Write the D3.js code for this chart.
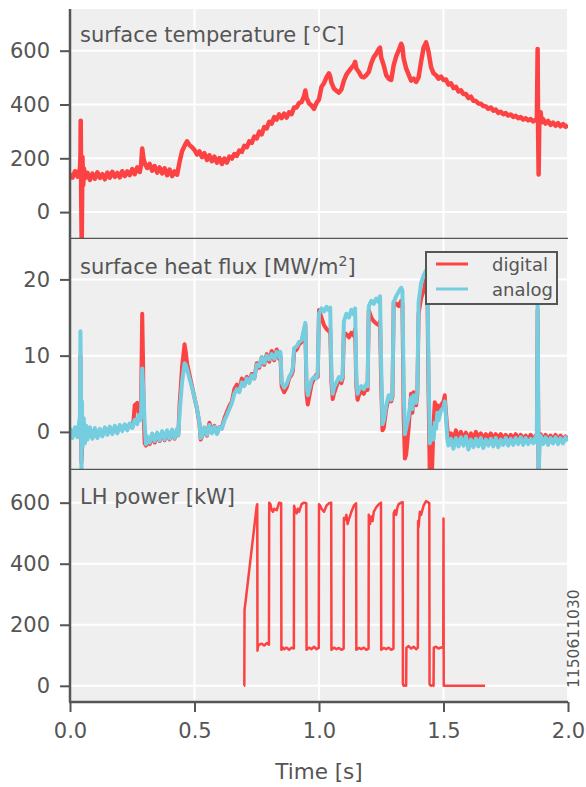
<!DOCTYPE html>
<html><head><meta charset="utf-8">
<script src="https://cdn.jsdelivr.net/npm/d3@7"></script>
<style>body{margin:0;background:#fff}svg{display:block}</style>
</head><body>
<svg id="c" width="586" height="787"></svg>
<script>
// ---------- data (time [s], value) ----------
const temperature = [[0,142],[0.01,128],[0.02,152],[0.03,132],[0.04,162],[0.042,210],[0.043,340],[0.045,60],[0.047,-120],[0.05,205],[0.053,100],[0.056,162],[0.06,126],[0.07,146],[0.08,120],[0.09,143],[0.10,124],[0.11,148],[0.12,127],[0.13,141],[0.14,122],[0.15,147],[0.16,128],[0.17,150],[0.18,131],[0.19,146],[0.20,129],[0.21,152],[0.22,134],[0.23,151],[0.24,137],[0.25,160],[0.26,141],[0.27,166],[0.28,149],[0.285,172],[0.29,236],[0.295,200],[0.30,182],[0.31,164],[0.32,179],[0.33,154],[0.34,171],[0.35,147],[0.36,166],[0.37,144],[0.38,163],[0.39,137],[0.40,158],[0.41,134],[0.42,151],[0.43,139],[0.44,186],[0.45,226],[0.46,246],[0.47,263],[0.48,249],[0.49,241],[0.50,231],[0.51,214],[0.52,226],[0.53,204],[0.54,219],[0.55,194],[0.56,211],[0.57,189],[0.58,206],[0.59,184],[0.60,201],[0.61,179],[0.62,199],[0.63,184],[0.64,206],[0.65,199],[0.66,216],[0.67,209],[0.68,229],[0.69,224],[0.70,246],[0.71,241],[0.72,263],[0.73,257],[0.74,281],[0.75,274],[0.76,299],[0.77,289],[0.78,316],[0.79,311],[0.80,336],[0.81,329],[0.82,353],[0.83,344],[0.84,363],[0.85,349],[0.86,366],[0.87,351],[0.88,371],[0.89,364],[0.90,389],[0.91,389],[0.92,406],[0.93,409],[0.94,431],[0.945,452],[0.95,426],[0.96,404],[0.97,396],[0.98,384],[0.99,406],[1.00,419],[1.01,466],[1.02,479],[1.03,501],[1.04,516],[1.045,504],[1.05,481],[1.06,459],[1.07,451],[1.08,444],[1.09,456],[1.10,489],[1.11,511],[1.12,524],[1.13,536],[1.14,547],[1.145,559],[1.15,534],[1.16,521],[1.17,504],[1.18,501],[1.19,509],[1.20,521],[1.21,554],[1.22,576],[1.23,589],[1.24,606],[1.245,611],[1.25,574],[1.26,546],[1.27,509],[1.28,496],[1.29,491],[1.30,546],[1.31,579],[1.32,601],[1.33,626],[1.335,614],[1.34,571],[1.35,534],[1.36,511],[1.37,489],[1.38,496],[1.39,484],[1.40,501],[1.41,559],[1.42,611],[1.43,631],[1.435,614],[1.44,596],[1.45,539],[1.46,516],[1.47,509],[1.48,496],[1.49,504],[1.50,491],[1.51,493],[1.52,474],[1.53,479],[1.54,461],[1.55,466],[1.56,449],[1.57,453],[1.58,439],[1.59,439],[1.60,424],[1.61,429],[1.62,414],[1.63,413],[1.64,404],[1.65,403],[1.66,394],[1.67,393],[1.68,384],[1.69,389],[1.70,377],[1.71,381],[1.72,369],[1.73,373],[1.74,364],[1.75,368],[1.76,359],[1.77,363],[1.78,354],[1.79,358],[1.80,349],[1.81,353],[1.82,344],[1.83,349],[1.84,341],[1.85,346],[1.86,337],[1.87,343],[1.875,345],[1.878,606],[1.88,300],[1.882,140],[1.885,352],[1.89,371],[1.895,334],[1.90,346],[1.91,329],[1.92,339],[1.93,324],[1.94,333],[1.95,321],[1.96,331],[1.97,319],[1.98,327],[1.99,317],[2.00,323]];

const fluxDigital = [[0,0.2],[0.01,-0.5],[0.02,0.4],[0.03,-0.4],[0.04,1],[0.042,10],[0.044,4],[0.046,-4],[0.05,-1],[0.06,-1],[0.07,-0.6],[0.08,0.4],[0.09,-0.7],[0.10,0.3],[0.11,-0.6],[0.12,0.2],[0.13,-0.4],[0.14,0.4],[0.15,-0.2],[0.16,0.5],[0.17,-0.1],[0.18,0.6],[0.19,0],[0.20,0.7],[0.21,0.3],[0.22,0.9],[0.23,0.4],[0.24,1.0],[0.25,0.6],[0.255,1.5],[0.26,3.5],[0.27,3.8],[0.275,2.5],[0.28,1.8],[0.285,3.0],[0.29,15.5],[0.293,10],[0.296,2],[0.30,-1.5],[0.305,-1.8],[0.31,-1.0],[0.32,-1.6],[0.33,-0.5],[0.34,-1.4],[0.35,-0.4],[0.36,-1.2],[0.37,-0.2],[0.38,-1.1],[0.39,0],[0.40,-1.0],[0.41,0.1],[0.42,-0.9],[0.43,0.2],[0.435,-0.3],[0.44,3.5],[0.45,8.5],[0.46,11.5],[0.465,10.5],[0.47,9.0],[0.48,7.5],[0.49,6.0],[0.50,4.5],[0.51,3.0],[0.52,1.0],[0.525,-1.0],[0.53,-0.6],[0.54,0.5],[0.55,-0.5],[0.56,1.2],[0.57,0],[0.58,0.8],[0.59,-0.2],[0.60,0.6],[0.61,0.6],[0.62,1.8],[0.63,2.6],[0.64,3.4],[0.65,4.0],[0.66,5.6],[0.67,6.2],[0.68,5.4],[0.69,7.0],[0.70,6.2],[0.71,7.2],[0.72,6.6],[0.73,7.6],[0.74,7.0],[0.75,9.0],[0.76,8.4],[0.77,9.8],[0.78,8.8],[0.79,10.2],[0.80,9.2],[0.81,10.6],[0.82,9.4],[0.83,10.8],[0.84,9.6],[0.845,10.0],[0.85,6.0],[0.86,5.2],[0.87,5.8],[0.88,7.0],[0.89,7.5],[0.895,8.0],[0.90,10.5],[0.91,10.8],[0.92,11.5],[0.93,11.8],[0.94,13.2],[0.945,14.0],[0.95,5.0],[0.955,3.6],[0.96,4.5],[0.97,6.2],[0.98,7.0],[0.99,7.5],[0.995,7.2],[1.00,16.0],[1.01,15.0],[1.02,14.0],[1.03,13.5],[1.04,13.2],[1.045,13.5],[1.05,6.5],[1.055,4.3],[1.06,5.0],[1.07,6.0],[1.08,6.8],[1.09,6.4],[1.095,7.0],[1.10,13.0],[1.11,12.8],[1.12,12.4],[1.13,13.0],[1.14,12.6],[1.145,13.5],[1.15,6.0],[1.155,4.2],[1.16,4.8],[1.17,5.4],[1.18,5.0],[1.19,5.8],[1.195,5.5],[1.20,16.0],[1.21,15.0],[1.22,14.5],[1.23,14.2],[1.24,14.0],[1.245,14.5],[1.25,6],[1.255,0.2],[1.26,0.5],[1.27,3.0],[1.28,4.5],[1.29,4.0],[1.295,4.6],[1.30,17.0],[1.31,16.8],[1.32,16.5],[1.33,17.2],[1.335,16.8],[1.34,2],[1.345,-3.5],[1.35,-3.0],[1.36,0.5],[1.37,5.0],[1.375,2.5],[1.38,5.2],[1.39,3.5],[1.395,5.0],[1.40,15.5],[1.41,17.5],[1.42,18.5],[1.43,20.0],[1.435,19.5],[1.44,5],[1.445,-6],[1.45,-8],[1.455,-4],[1.46,1.0],[1.465,3.9],[1.47,2.5],[1.475,3.5],[1.48,2.0],[1.49,3.5],[1.50,4.0],[1.505,4.8],[1.51,2.5],[1.515,0.5],[1.52,-0.6],[1.53,-0.2],[1.54,-0.9],[1.55,0.2],[1.56,-0.8],[1.57,0],[1.58,-0.9],[1.59,-0.1],[1.60,-1.0],[1.61,-0.2],[1.62,-0.8],[1.63,0],[1.64,-0.7],[1.65,-0.2],[1.66,-0.9],[1.67,-0.3],[1.68,-0.8],[1.69,-0.2],[1.70,-0.9],[1.71,-0.3],[1.72,-0.8],[1.73,-0.3],[1.74,-0.9],[1.75,-0.4],[1.76,-1.0],[1.77,-0.4],[1.78,-0.9],[1.79,-0.3],[1.80,-1.0],[1.81,-0.4],[1.82,-0.9],[1.83,-0.5],[1.84,-1.0],[1.85,-0.4],[1.86,-0.9],[1.87,-0.5],[1.875,-0.8],[1.878,16],[1.88,4],[1.882,-6],[1.885,-1],[1.89,-0.3],[1.90,-1.0],[1.91,-0.4],[1.92,-1.1],[1.93,-0.5],[1.94,-1.0],[1.95,-0.4],[1.96,-1.1],[1.97,-0.5],[1.98,-1.0],[1.99,-0.6],[2.00,-0.9]];

const fluxAnalog = [[0,0.5],[0.01,-0.8],[0.02,0.6],[0.03,-0.7],[0.035,0.8],[0.04,2],[0.042,13.2],[0.044,6],[0.046,-6],[0.048,4],[0.05,-2],[0.055,1.8],[0.06,-1.5],[0.065,0.8],[0.07,-1],[0.08,0.6],[0.09,-0.9],[0.10,0.5],[0.11,-0.8],[0.12,0.4],[0.13,-0.6],[0.14,0.6],[0.15,-0.4],[0.16,0.7],[0.17,-0.3],[0.18,0.8],[0.19,-0.2],[0.20,0.9],[0.21,0.1],[0.22,1.0],[0.23,0.2],[0.24,1.1],[0.25,0.5],[0.26,1.6],[0.27,1.0],[0.275,2.2],[0.28,1.5],[0.285,2.0],[0.29,8.3],[0.295,5],[0.30,1],[0.305,-1.6],[0.31,-0.6],[0.32,-1.4],[0.33,-0.2],[0.34,-1.2],[0.35,-0.1],[0.36,-1.1],[0.37,0.1],[0.38,-1.0],[0.39,0.2],[0.40,-0.9],[0.41,0.3],[0.42,-0.8],[0.43,0.4],[0.435,-0.5],[0.44,2.5],[0.45,6.5],[0.46,9.0],[0.465,8.8],[0.47,8.2],[0.48,7.0],[0.49,5.8],[0.50,4.5],[0.51,3.0],[0.52,1.2],[0.525,-0.8],[0.53,-0.5],[0.54,0.6],[0.55,-0.4],[0.56,0.9],[0.57,-0.2],[0.58,0.7],[0.59,-0.3],[0.60,0.6],[0.61,0.4],[0.62,1.5],[0.63,2.2],[0.64,3.0],[0.65,3.8],[0.66,5.0],[0.67,5.6],[0.68,5.2],[0.69,6.5],[0.70,6.0],[0.71,7.0],[0.72,6.4],[0.73,7.4],[0.74,7.0],[0.75,8.8],[0.76,8.6],[0.77,9.8],[0.78,9.0],[0.79,10.0],[0.80,9.5],[0.81,10.2],[0.82,9.6],[0.83,10.5],[0.84,9.8],[0.845,10.5],[0.85,6.5],[0.86,5.8],[0.87,6.3],[0.88,7.2],[0.89,7.8],[0.895,8.5],[0.90,11.0],[0.91,11.2],[0.92,11.8],[0.93,12.0],[0.94,13.5],[0.945,14.3],[0.95,6.0],[0.955,4.8],[0.96,5.5],[0.97,6.8],[0.98,7.2],[0.99,7.0],[0.995,7.8],[1.00,15.5],[1.01,16.2],[1.02,15.8],[1.03,16.4],[1.04,15.9],[1.045,16.3],[1.05,7.5],[1.055,5.0],[1.06,5.8],[1.07,6.5],[1.08,7.2],[1.09,6.8],[1.095,7.5],[1.10,14.5],[1.11,15.5],[1.12,15.0],[1.13,16.0],[1.14,15.4],[1.145,16.2],[1.15,7.0],[1.155,5.0],[1.16,5.5],[1.17,6.0],[1.18,5.6],[1.19,6.3],[1.195,6.0],[1.20,16.5],[1.21,17.2],[1.22,16.8],[1.23,17.5],[1.24,17.0],[1.245,17.8],[1.25,8],[1.255,1.0],[1.26,1.5],[1.27,3.5],[1.28,4.8],[1.29,4.2],[1.295,5.0],[1.30,17.0],[1.31,17.8],[1.32,18.4],[1.33,18.9],[1.335,18.5],[1.34,6],[1.345,-0.3],[1.35,0.5],[1.36,2.0],[1.37,4.5],[1.375,3.0],[1.38,4.8],[1.39,3.8],[1.395,5.5],[1.40,17.0],[1.41,19.5],[1.42,20.5],[1.43,21.2],[1.435,20.8],[1.44,8],[1.445,-1.5],[1.45,-0.5],[1.455,0.5],[1.46,-1.0],[1.465,1.2],[1.47,0.4],[1.475,2.5],[1.48,1.5],[1.49,2.8],[1.50,3.2],[1.505,4.0],[1.51,2.0],[1.515,-0.8],[1.52,-1.8],[1.53,-0.9],[1.54,-2.2],[1.55,-0.8],[1.56,-1.9],[1.57,-0.7],[1.58,-1.8],[1.59,-0.6],[1.60,-2.3],[1.61,-1.0],[1.62,-2.0],[1.63,-0.9],[1.64,-1.9],[1.65,-0.8],[1.66,-2.1],[1.67,-1.0],[1.68,-1.8],[1.69,-0.9],[1.70,-1.9],[1.71,-0.8],[1.72,-2.0],[1.73,-1.0],[1.74,-1.7],[1.75,-0.8],[1.76,-1.8],[1.77,-0.9],[1.78,-1.7],[1.79,-0.8],[1.80,-1.6],[1.81,-0.7],[1.82,-1.7],[1.83,-0.8],[1.84,-1.6],[1.85,-0.9],[1.86,-1.5],[1.87,-0.6],[1.875,-1.4],[1.878,18],[1.88,5],[1.882,-7],[1.885,-2],[1.89,-0.5],[1.90,-1.6],[1.91,-0.7],[1.92,-1.7],[1.93,-0.8],[1.94,-1.5],[1.95,-0.7],[1.96,-1.6],[1.97,-0.8],[1.98,-1.5],[1.99,-0.7],[2.00,-1.2]];

const lhPower = [[0.699,0],[0.70,0],[0.701,250],[0.705,275],[0.71,310],[0.72,380],[0.73,450],[0.74,520],[0.75,590],[0.752,595],[0.753,115],[0.755,130],[0.76,135],[0.77,138],[0.78,132],[0.79,140],[0.799,135],[0.80,600],[0.805,595],[0.81,575],[0.815,570],[0.82,580],[0.83,575],[0.84,600],[0.848,598],[0.849,118],[0.855,125],[0.86,120],[0.87,125],[0.88,118],[0.89,125],[0.899,122],[0.90,590],[0.905,575],[0.91,565],[0.915,580],[0.92,570],[0.93,595],[0.94,600],[0.949,598],[0.95,118],[0.96,125],[0.97,120],[0.98,128],[0.99,120],[0.999,124],[1.00,595],[1.005,590],[1.01,580],[1.02,570],[1.03,590],[1.04,598],[1.049,600],[1.05,118],[1.06,125],[1.07,120],[1.08,124],[1.09,118],[1.099,122],[1.10,550],[1.105,545],[1.11,560],[1.115,530],[1.12,545],[1.13,570],[1.14,590],[1.149,598],[1.15,118],[1.16,124],[1.17,120],[1.18,125],[1.19,118],[1.199,122],[1.20,560],[1.205,530],[1.21,555],[1.215,540],[1.22,570],[1.23,585],[1.24,595],[1.249,600],[1.25,118],[1.26,124],[1.27,120],[1.28,125],[1.29,118],[1.299,122],[1.30,565],[1.305,575],[1.31,560],[1.315,585],[1.32,595],[1.33,600],[1.336,602],[1.337,5],[1.34,0],[1.345,2],[1.35,0],[1.351,125],[1.36,130],[1.37,122],[1.38,128],[1.39,120],[1.397,125],[1.398,540],[1.40,520],[1.405,570],[1.41,560],[1.42,590],[1.43,605],[1.44,600],[1.443,598],[1.444,5],[1.45,0],[1.455,3],[1.46,0],[1.461,125],[1.47,128],[1.48,122],[1.49,126],[1.499,124],[1.50,548],[1.501,0],[1.55,0],[1.60,0],[1.667,0]];

const timeTicks = [0.0, 0.5, 1.0, 1.5, 2.0];
const tempTicks = [0, 200, 400, 600];
const fluxTicks = [0, 10, 20];
const powerTicks = [0, 200, 400, 600];
const panelTitles = ["surface temperature [°C]", "surface heat flux [MW/m", "LH power [kW]"];
const legendLabels = ["digital", "analog"];
const shotNumber = "1150611030";

// ---------- layout ----------
const RED = "#fc4242", CYAN = "#75cde0", INK = "#555555", BG = "#efefef";
const FONT = "'DejaVu Sans', sans-serif";
const L = 70, R = 568;
const svg = d3.select("#c");
const x = d3.scaleLinear().domain([0, 2]).range([L, R]);

const panels = [
  {top: 9, bottom: 239, domain: [-100, 755], ticks: tempTicks, series: [[temperature, RED, 4.5]]},
  {top: 239, bottom: 470, domain: [-5, 25.3], ticks: fluxTicks, series: [[fluxDigital, RED, 4], [fluxAnalog, CYAN, 4]]},
  {top: 470, bottom: 702, domain: [-53, 707], ticks: powerTicks, series: [[lhPower, RED, 2.5]]}
];

panels.forEach((p, i) => {
  const y = d3.scaleLinear().domain(p.domain).range([p.bottom, p.top]);
  const g = svg.append("g");
  g.append("rect").attr("x", L).attr("y", p.top).attr("width", R - L).attr("height", p.bottom - p.top).attr("fill", BG);
  const clipId = "clip" + i;
  svg.append("clipPath").attr("id", clipId).append("rect")
    .attr("x", L).attr("y", p.top).attr("width", R - L).attr("height", p.bottom - p.top);
  g.selectAll(".vg").data(timeTicks).enter().append("line")
    .attr("x1", d => x(d)).attr("x2", d => x(d)).attr("y1", p.top).attr("y2", p.bottom)
    .attr("stroke", "#fff").attr("stroke-width", 2);
  g.selectAll(".hg").data(p.ticks).enter().append("line")
    .attr("x1", L).attr("x2", R).attr("y1", d => y(d)).attr("y2", d => y(d))
    .attr("stroke", "#fff").attr("stroke-width", 2);
  const lg = g.append("g").attr("clip-path", `url(#${clipId})`);
  p.series.forEach(([data, color, w]) => {
    lg.append("path").datum(data)
      .attr("d", d3.line().x(d => x(d[0])).y(d => y(d[1])))
      .attr("fill", "none").attr("stroke", color).attr("stroke-width", w)
      .attr("stroke-linejoin", "round");
  });
  const ax = d3.axisLeft(y).tickValues(p.ticks).tickSize(10).tickPadding(10).tickFormat(d3.format("d"));
  const axg = svg.append("g").attr("transform", `translate(${L},0)`).call(ax);
  axg.select(".domain").remove();
  axg.selectAll(".tick line").attr("stroke", INK).attr("stroke-width", 2);
  axg.selectAll(".tick text").attr("fill", INK).style("font-family", FONT).style("font-size", "21px");
  svg.append("line").attr("x1", L - 1).attr("x2", R).attr("y1", p.bottom).attr("y2", p.bottom)
    .attr("stroke", INK).attr("stroke-width", 2.5);
});

svg.append("line").attr("x1", L).attr("x2", L).attr("y1", 9).attr("y2", 702).attr("stroke", INK).attr("stroke-width", 2.5);

const xa = d3.axisBottom(x).tickValues(timeTicks).tickSize(10).tickPadding(11).tickFormat(d3.format(".1f"));
const xag = svg.append("g").attr("transform", "translate(0,702)").call(xa);
xag.select(".domain").remove();
xag.selectAll(".tick line").attr("stroke", INK).attr("stroke-width", 2);
xag.selectAll(".tick text").attr("fill", INK).style("font-family", FONT).style("font-size", "21px");

svg.append("text").attr("x", x(1)).attr("y", 779).attr("text-anchor", "middle")
  .attr("fill", INK).style("font-family", FONT).style("font-size", "21.5px").text("Time [s]");

const titleY = [42, 274, 504];
panelTitles.forEach((t, i) => {
  const tx = svg.append("text").attr("x", 80).attr("y", titleY[i]).attr("fill", INK)
    .style("font-family", FONT).style("font-size", "21px").text(t);
  if (i === 1) {
    tx.append("tspan").attr("dy", -8).style("font-size", "14px").text("2");
    tx.append("tspan").attr("dy", 8).text("]");
  }
});

const lgd = svg.append("g");
lgd.append("rect").attr("x", 426).attr("y", 252).attr("width", 131).attr("height", 52)
  .attr("fill", BG).attr("stroke", INK).attr("stroke-width", 2);
[[RED, 264], [CYAN, 289]].forEach(([c, yy], i) => {
  lgd.append("line").attr("x1", 436).attr("x2", 468).attr("y1", yy).attr("y2", yy).attr("stroke", c).attr("stroke-width", 3);
  lgd.append("text").attr("x", 492).attr("y", yy + 7).attr("fill", INK)
    .style("font-family", FONT).style("font-size", "18px").text(legendLabels[i]);
});

svg.append("text").attr("transform", "translate(579,688) rotate(-90)")
  .attr("fill", INK).style("font-family", FONT).style("font-size", "15.5px").text(shotNumber);
</script>
</body></html>
